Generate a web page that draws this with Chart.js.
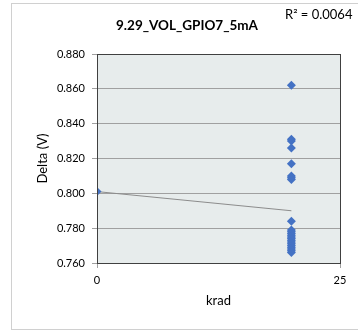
<!DOCTYPE html>
<html>
<head>
<meta charset="utf-8">
<script src="https://cdn.jsdelivr.net/npm/chart.js@4.4.0/dist/chart.umd.min.js"></script>
<style>
    html, body { margin: 0; padding: 0; background: #ffffff; }
    #wrap { width: 358px; height: 333px; position: relative; }
</style>
</head>
<body>
<div id="wrap"><canvas id="chart"></canvas></div>
<script>
// 9.29_VOL_GPIO7_5mA - Delta (V) vs krad
const chartTitle = '9.29_VOL_GPIO7_5mA';
const rSquaredText = 'R\u00B2 = 0.0064';

const doseX = [0, 20, 20, 20, 20, 20, 20, 20, 20,
    20, 20, 20, 20, 20, 20, 20, 20, 20, 20, 20, 20, 20, 20, 20];
const deltaY = [0.801, 0.862, 0.831, 0.830, 0.826, 0.817, 0.810, 0.809, 0.808,
    0.784, 0.779, 0.778, 0.777, 0.776, 0.775, 0.774, 0.773, 0.772, 0.771, 0.770, 0.769, 0.768, 0.767, 0.766];

const trendX = [0, 20];
const trendY = [0.801, 0.790];

const yTicks = [0.760, 0.780, 0.800, 0.820, 0.840, 0.860, 0.880];
const xTicks = [0, 25];

const FONT = 'Lato, "Open Sans", sans-serif';

const frameAndText = {
    id: 'frameAndText',
    beforeDraw(chart) {
        const { ctx, chartArea: a } = chart;
        ctx.save();
        ctx.fillStyle = '#ffffff';
        ctx.fillRect(0, 0, chart.width, chart.height);
        ctx.strokeStyle = '#d0d0d0';
        ctx.lineWidth = 1;
        ctx.strokeRect(11.5, 3.5, chart.width + 10, 326);
        ctx.fillStyle = '#e7ecec';
        ctx.fillRect(a.left, a.top, a.right - a.left, a.bottom - a.top);
        ctx.restore();
    },
    afterDraw(chart) {
        const { ctx, chartArea: a } = chart;
        ctx.save();
        ctx.strokeStyle = '#404040';
        ctx.lineWidth = 1;
        ctx.strokeRect(Math.round(a.left) + 0.5, Math.round(a.top) + 0.5,
            Math.round(a.right - a.left), Math.round(a.bottom - a.top));
        ctx.fillStyle = '#000000';
        ctx.textBaseline = 'middle';
        ctx.textAlign = 'center';
        ctx.font = 'bold 13.5px ' + FONT;
        ctx.fillText(chartTitle, 187, 26);
        ctx.textAlign = 'left';
        ctx.font = '13px ' + FONT;
        ctx.fillText(rSquaredText, 285, 15);
        ctx.restore();
    }
};

new Chart(document.getElementById('chart'), {
    type: 'scatter',
    data: {
        datasets: [
            {
                label: 'Delta',
                data: doseX.map((x, i) => ({ x: x, y: deltaY[i] })),
                pointStyle: 'rectRot',
                pointRadius: 4.5,
                pointBackgroundColor: '#4472c4',
                pointBorderColor: '#4472c4',
                pointBorderWidth: 0,
                order: 1
            },
            {
                label: 'Trend',
                type: 'line',
                data: trendX.map((x, i) => ({ x: x, y: trendY[i] })),
                borderColor: '#8c8c8c',
                borderWidth: 1,
                pointRadius: 0,
                fill: false,
                order: 2
            }
        ]
    },
    options: {
        responsive: true,
        maintainAspectRatio: false,
        animation: false,
        layout: { padding: { left: 35, top: 54, right: 18, bottom: 24 } },
        plugins: {
            legend: { display: false },
            title: { display: false },
            tooltip: { enabled: false }
        },
        scales: {
            x: {
                type: 'linear',
                min: 0,
                max: 25,
                afterBuildTicks: (scale) => { scale.ticks = xTicks.map(v => ({ value: v })); },
                afterFit: (scale) => { scale.height = 46; },
                grid: { drawOnChartArea: false, drawTicks: true, tickLength: 5, color: '#a0a0a0' },
                border: { display: false },
                ticks: { color: '#000', padding: 6, font: { family: FONT, size: 11 } },
                title: { display: true, text: 'krad', color: '#000', padding: 0, font: { family: FONT, size: 13 } }
            },
            y: {
                min: 0.76,
                max: 0.88,
                afterBuildTicks: (scale) => { scale.ticks = yTicks.map(v => ({ value: v })); },
                afterFit: (scale) => { scale.width = 62; },
                grid: { color: '#a0a0a0', tickLength: 5, lineWidth: 1 },
                border: { display: false },
                ticks: {
                    color: '#000',
                    padding: 7,
                    font: { family: FONT, size: 11 },
                    callback: (v) => Number(v).toFixed(3)
                },
                title: { display: true, text: 'Delta (V)', color: '#000', padding: 0, font: { family: FONT, size: 13 } }
            }
        }
    },
    plugins: [frameAndText]
});
</script>
</body>
</html>
